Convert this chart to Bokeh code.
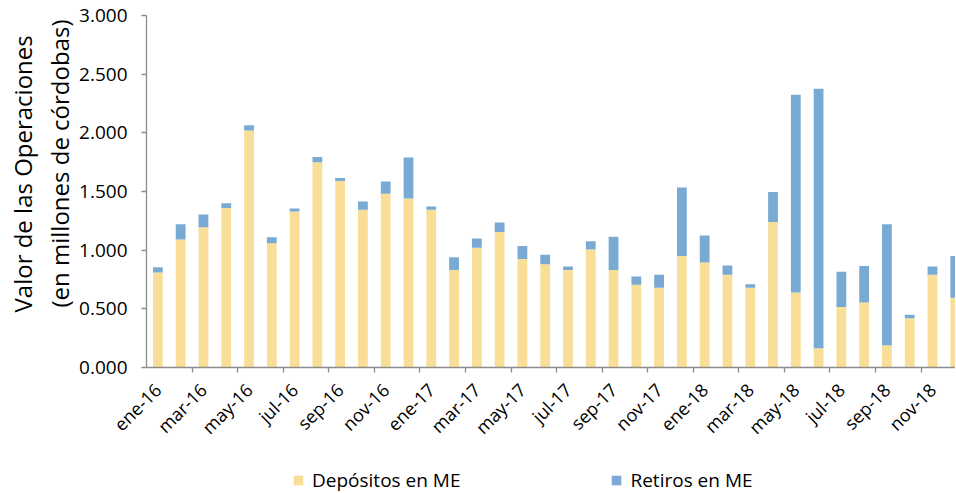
import math
from bokeh.plotting import figure
from bokeh.layouts import column
from bokeh.models import (ColumnDataSource, Range1d, FixedTicker, NumeralTickFormatter,
                          Legend, LegendItem, Title)
from bokeh.embed import file_html
from bokeh.resources import INLINE

months = ["ene-16", "feb-16", "mar-16", "abr-16", "may-16", "jun-16", "jul-16", "ago-16",
          "sep-16", "oct-16", "nov-16", "dic-16", "ene-17", "feb-17", "mar-17", "abr-17",
          "may-17", "jun-17", "jul-17", "ago-17", "sep-17", "oct-17", "nov-17", "dic-17",
          "ene-18", "feb-18", "mar-18", "abr-18", "may-18", "jun-18", "jul-18", "ago-18",
          "sep-18", "oct-18", "nov-18", "dic-18"]
depositos = [0.810, 1.090, 1.195, 1.360, 2.020, 1.060, 1.330, 1.750,
             1.590, 1.345, 1.480, 1.440, 1.345, 0.830, 1.020, 1.155,
             0.925, 0.880, 0.830, 1.005, 0.830, 0.705, 0.680, 0.950,
             0.895, 0.790, 0.680, 1.240, 0.640, 0.165, 0.515, 0.555,
             0.190, 0.420, 0.790, 0.595]
retiros = [0.045, 0.130, 0.110, 0.040, 0.045, 0.050, 0.025, 0.045,
           0.025, 0.070, 0.105, 0.350, 0.028, 0.110, 0.080, 0.080,
           0.110, 0.080, 0.030, 0.070, 0.285, 0.070, 0.110, 0.585,
           0.230, 0.080, 0.030, 0.255, 1.685, 2.210, 0.300, 0.310,
           1.030, 0.030, 0.070, 0.355]
y_ticks = [0, 0.5, 1.0, 1.5, 2.0, 2.5, 3.0]
series_names = ["Depósitos en ME", "Retiros en ME"]
y_title_lines = ["Valor de las Operaciones", "(en millones de córdobas)"]
colors = ["#F9DE98", "#78AAD4"]

FONT = "Open Sans"
AXIS_GRAY = "#8C8C8C"
x = list(range(len(months)))
src = ColumnDataSource(dict(x=x, dep=depositos, ret=retiros))

p = figure(width=955, height=455, output_backend="svg", toolbar_location=None,
           x_range=Range1d(-0.5, 35.01), y_range=Range1d(0, 3.0),
           min_border_left=146, min_border_right=0, min_border_top=15, min_border_bottom=88)
p.outline_line_color = None
p.xgrid.visible = False
p.ygrid.visible = False

rs = p.vbar_stack(["dep", "ret"], x="x", width=0.43, source=src, color=colors, line_color=None)

label_ticks = x[::2]
p.xaxis.ticker = FixedTicker(ticks=label_ticks, minor_ticks=[i + 1.5 for i in range(0, 34, 2)])
p.xaxis.major_label_overrides = {i: months[i] for i in label_ticks}
p.xaxis.major_label_orientation = math.pi / 4
p.xaxis.major_tick_out = 0
p.xaxis.major_tick_in = 0
p.xaxis.minor_tick_out = 5
p.xaxis.minor_tick_in = 0
p.xaxis.minor_tick_line_color = AXIS_GRAY
p.xaxis.minor_tick_line_width = 1.3
p.xaxis.axis_line_color = AXIS_GRAY
p.xaxis.axis_line_width = 1.3
p.xaxis.major_label_text_font = FONT
p.xaxis.major_label_text_font_size = "18px"
p.xaxis.major_label_text_color = "black"
p.xaxis.major_label_standoff = 14

p.yaxis.ticker = FixedTicker(ticks=y_ticks, minor_ticks=[])
p.yaxis.formatter = NumeralTickFormatter(format="0.000")
p.yaxis.major_tick_out = 5
p.yaxis.major_tick_in = 0
p.yaxis.major_tick_line_color = AXIS_GRAY
p.yaxis.major_tick_line_width = 1.3
p.yaxis.axis_line_color = AXIS_GRAY
p.yaxis.axis_line_width = 1.3
p.yaxis.major_label_text_font = FONT
p.yaxis.major_label_text_font_size = "19px"
p.yaxis.major_label_text_color = "black"
p.yaxis.major_label_standoff = 14

# two-line axis title, inner line first; offset measured up from the frame bottom
for line, off in ((y_title_lines[1], 60), (y_title_lines[0], 55)):
    t = Title(text=line, align="left", offset=off, standoff=2,
              text_font=FONT, text_font_size="24px", text_font_style="normal",
              text_color="black")
    p.add_layout(t, "left")

# legend strip below the chart
lf = figure(width=955, height=38, output_backend="svg", toolbar_location=None,
            x_range=Range1d(0, 1), y_range=Range1d(10, 11),
            min_border_left=146, min_border_right=0, min_border_top=0, min_border_bottom=0)
lf.axis.visible = False
lf.grid.visible = False
lf.outline_line_color = None
lr = lf.vbar_stack(["dep", "ret"], x="x", width=0.43, source=src, color=colors, line_color=None)
legend = Legend(items=[LegendItem(label=series_names[i], renderers=[lr[i]]) for i in range(2)],
                orientation="horizontal", location=(146, 0),
                glyph_width=12, glyph_height=12, label_standoff=8, spacing=150,
                label_text_font=FONT, label_text_font_size="19px", label_text_color="black",
                border_line_color=None, background_fill_alpha=0, margin=0, padding=0)
lf.add_layout(legend, "center")

layout = column(p, lf, spacing=0)
open("out.html", "w").write(file_html(layout, INLINE))
